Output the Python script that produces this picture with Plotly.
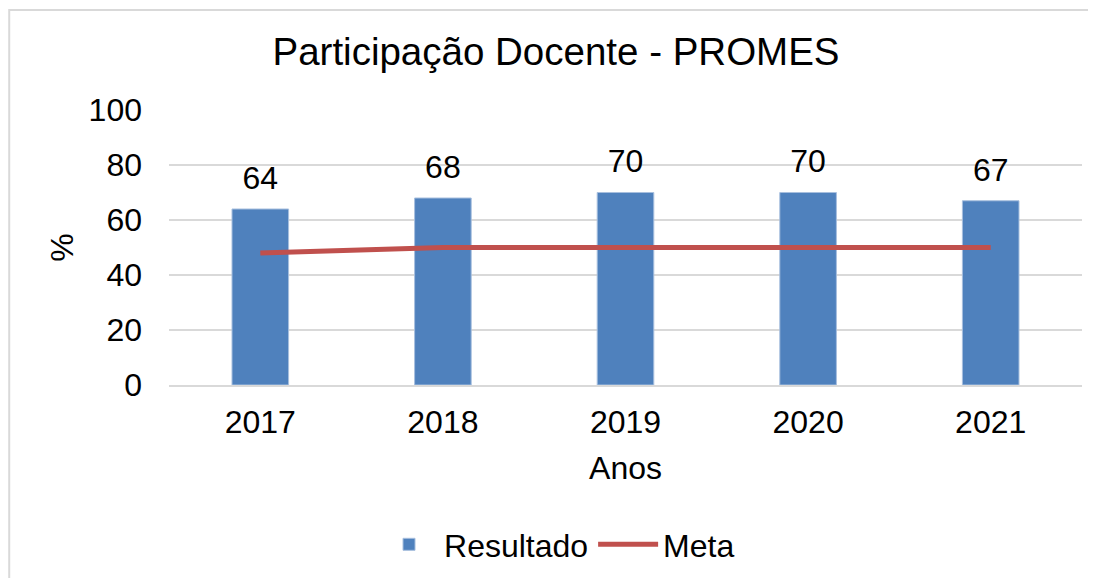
import plotly.graph_objects as go

anos = ['2017', '2018', '2019', '2020', '2021']
resultado = [64, 68, 70, 70, 67]
meta = [48, 50, 50, 50, 50]

fonte = 'Liberation Sans, Arial, sans-serif'

fig = go.Figure()
fig.add_trace(go.Bar(x=anos, y=resultado, name='Resultado',
                     marker=dict(color='#4F81BD', line=dict(width=1, color='#A7BFDE'))))
fig.add_trace(go.Scatter(x=anos, y=meta, name='Meta', mode='lines',
                         line=dict(color='#C0504D', width=5)))
# rótulos de dados acima das barras (marcador invisível só para afastar o texto)
fig.add_trace(go.Scatter(x=anos, y=resultado, mode='markers+text', text=resultado,
                         textposition='top center', textfont=dict(size=32, color='black'),
                         marker=dict(size=18, color='rgba(0,0,0,0)'),
                         showlegend=False, hoverinfo='skip', cliponaxis=False))

fig.update_layout(
    width=1096, height=578,
    margin=dict(l=161, r=22, t=102, b=201),
    paper_bgcolor='white', plot_bgcolor='white',
    font=dict(family=fonte, size=32, color='black'),
    title=dict(text='Participação Docente - PROMES', x=0.5, xanchor='center',
               y=0.924, yanchor='middle', font=dict(size=38.5)),
    bargap=0.69,
    showlegend=True,
    legend=dict(orientation='h', x=0.425, xanchor='center', y=-0.58, yanchor='middle',
                font=dict(size=32), itemwidth=60),
)
fig.update_yaxes(range=[0, 100], dtick=20, showgrid=True, gridcolor='#D9D9D9', gridwidth=2,
                 zeroline=False, ticks='', ticklabelstandoff=26,
                 title=dict(text='%', font=dict(size=32), standoff=5))
fig.update_xaxes(type='category', showline=True, linecolor='#D9D9D9', linewidth=2, ticks='',
                 ticklabelstandoff=8,
                 title=dict(text='Anos', font=dict(size=32), standoff=17))

# moldura do gráfico
fig.add_shape(type='rect', xref='paper', yref='paper',
              x0=-0.175, x1=1.0142, y0=-0.72, y1=1.3636,
              line=dict(color='#D9D9D9', width=2))

fig.write_html("out.html")
